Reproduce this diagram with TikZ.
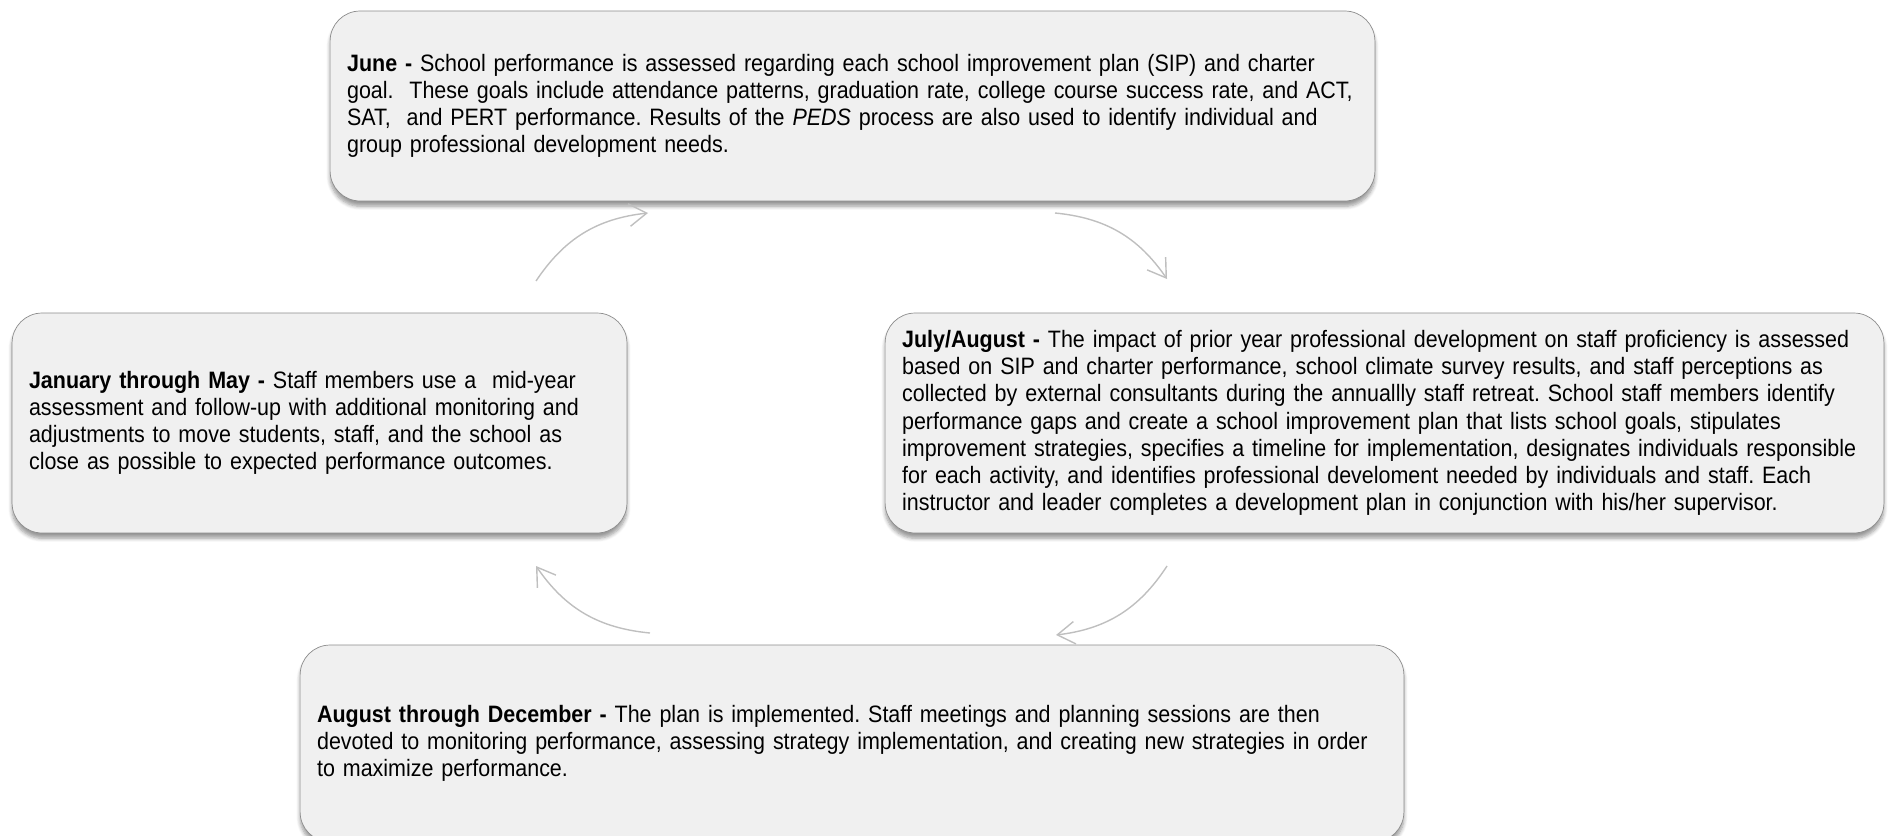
\documentclass[tikz,border=0pt]{standalone}
\usepackage{fontspec}
\setmainfont{Liberation Sans}[FakeStretch=0.905,WordSpace=0.84]
\usetikzlibrary{arrows.meta,shadows.blur}
\frenchspacing
\hyphenpenalty=10000

\begin{document}
\begin{tikzpicture}[x=0.02cm,y=-0.02cm,
    stage/.style={shape=rectangle, rounded corners=0.6cm, draw=black!45, fill=black!6,
      blur shadow={shadow xshift=0pt, shadow yshift=-3pt, shadow opacity=40, shadow blur steps=6},
      inner xsep=0.34cm, align=left, font=\fontsize{13.5}{15.5}\selectfont},
    cycle/.style={-{Straight Barb[length=0.35cm,width=0.45cm]}, draw=black!25, thick, bend left=25}]
    \useasboundingbox (0,0) rectangle (1888,835);

    \node[stage, minimum width=20.9cm, minimum height=3.8cm, text width=20.22cm] (june) at (852.5,106)
      {\textbf{June -} School performance is assessed regarding each school improvement plan (SIP) and charter\\
       goal.\ \ These goals include attendance patterns, graduation rate, college course success rate, and ACT,\\
       SAT,\ \ and PERT performance. Results of the \textit{PEDS} process are also used to identify individual and\\
       group professional development needs.};
    \node[stage, minimum width=19.98cm, minimum height=4.4cm, text width=19.3cm] (julyaug) at (1384.5,423)
      {\textbf{July/August -} The impact of prior year professional development on staff proficiency is assessed\\
       based on SIP and charter performance, school climate survey results, and staff perceptions as\\
       collected by external consultants during the annuallly staff retreat. School staff members identify\\
       performance gaps and create a school improvement plan that lists school goals, stipulates\\
       improvement strategies, specifies a timeline for implementation, designates individuals responsible\\
       for each activity, and identifies professional develoment needed by individuals and staff. Each\\
       instructor and leader completes a development plan in conjunction with his/her supervisor.};
    \node[stage, minimum width=22.08cm, minimum height=3.94cm, text width=21.4cm] (augdec) at (852,743.5)
      {\textbf{August through December -} The plan is implemented. Staff meetings and planning sessions are then\\
       devoted to monitoring performance, assessing strategy implementation, and creating new strategies in order\\
       to maximize performance.};
    \node[stage, minimum width=12.3cm, minimum height=4.4cm, text width=11.62cm] (janmay) at (319.5,423)
      {\textbf{January through May -} Staff members use a\ \ mid-year\\
       assessment and follow-up with additional monitoring and\\
       adjustments to move students, staff, and the school as\\
       close as possible to expected performance outcomes.};

    % arrows of the yearly cycle
    \coordinate (jm out) at (536,281);
    \coordinate (jn in) at (648,213);
    \coordinate (jn out) at (1055,213);
    \coordinate (ja in) at (1167,279);
    \coordinate (ja out) at (1167,566);
    \coordinate (ad in) at (1056,635);
    \coordinate (ad out) at (650,633);
    \coordinate (jm in) at (536,566);

    \draw [cycle] (jm out) to (jn in);
    \draw [cycle] (jn out) to (ja in);
    \draw [cycle] (ja out) to (ad in);
    \draw [cycle] (ad out) to (jm in);
\end{tikzpicture}
\end{document}
